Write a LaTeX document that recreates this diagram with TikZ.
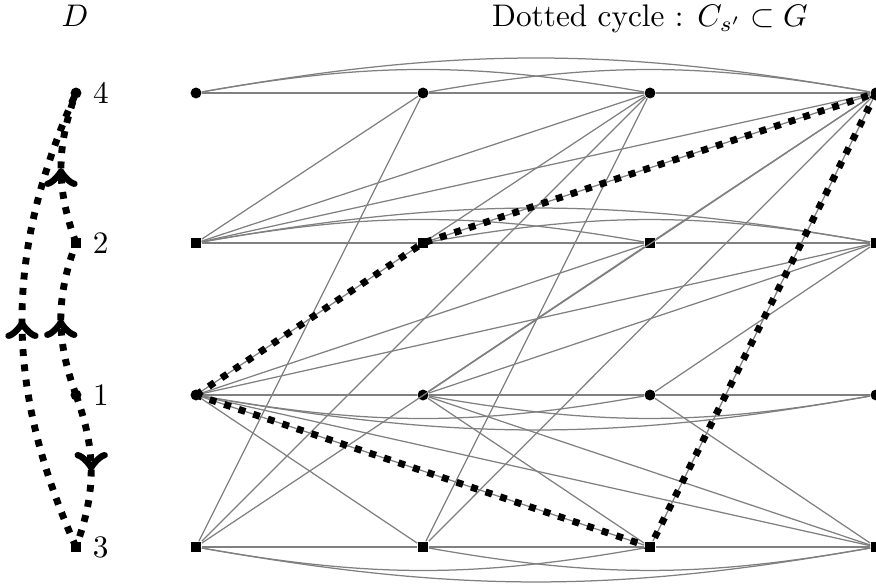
\documentclass[tikz,border=0pt]{standalone}
\usetikzlibrary{decorations.markings}
\begin{document}
\begin{tikzpicture}[x=0.32pt,y=-0.32pt,
  dotn/.style={circle,fill=black,inner sep=0pt,minimum size=3.5pt},
  sqn/.style={rectangle,fill=black,inner sep=0pt,minimum size=3.3pt},
  gedge/.style={draw=gray,line width=0.4pt},
  cyc/.style={line width=2.2pt,dash pattern=on 2.2pt off 2.7pt},
  midarrow/.style={decoration={markings,mark=at position 0.5 with {\arrow[solid,scale=1.15]{>}}},postaction={decorate}},
  lab/.style={inner sep=0pt}]
\useasboundingbox (0,0) rectangle (876,586);
% titles
\node[lab,anchor=base] (tD) at (75,27) {$D$};
\node[lab,anchor=base] (tG) at (650,27) {Dotted cycle : $C_{s'}\subset G$};
% D
\node[dotn,label={right:4}] (d4) at (76,93) {};
\node[sqn,label={right:2}] (d2) at (76,243) {};
\node[dotn,label={right:1}] (d1) at (76,395) {};
\node[sqn,label={right:3}] (d3) at (76,547) {};
\draw[cyc,midarrow] (d3.center) to[bend left=24] (d4.center);
\draw[cyc,midarrow] (d2.center) to[bend left=20] (d4.center);
\draw[cyc,midarrow] (d1.center) to[bend left=20] (d2.center);
\draw[cyc,midarrow] (d1.center) to[bend left=20] (d3.center);
% G nodes
\foreach \i/\x in {0/196,1/423,2/650,3/876}{
  \node[dotn] (a\i) at (\x,93) {};
  \node[sqn]  (b\i) at (\x,243) {};
  \node[dotn] (c\i) at (\x,395) {};
  \node[sqn]  (e\i) at (\x,547) {};
}
% row edges
\foreach \r in {a,b}{
  \draw[gedge] (\r0) -- (\r1) -- (\r2) -- (\r3);
  \draw[gedge] (\r0) to[bend left=10] (\r2);
  \draw[gedge] (\r1) to[bend left=10] (\r3);
  \draw[gedge] (\r0) to[bend left=10] (\r3);
}
\foreach \r in {c,e}{
  \draw[gedge] (\r0) -- (\r1) -- (\r2) -- (\r3);
  \draw[gedge] (\r0) to[bend right=10] (\r2);
  \draw[gedge] (\r1) to[bend right=10] (\r3);
  \draw[gedge] (\r0) to[bend right=10] (\r3);
}
% cross edges i<j
\foreach \i/\j in {0/1,0/2,0/3,1/2,1/3,2/3}{
  \draw[gedge] (b\i) -- (a\j);
  \draw[gedge] (c\i) -- (b\j);
  \draw[gedge] (c\i) -- (e\j);
  \draw[gedge] (e\i) -- (a\j);
}
% dotted cycle
\draw[cyc] (c0.center) -- (b1.center) -- (a3.center) -- (e2.center) -- cycle;
\end{tikzpicture}
\end{document}
